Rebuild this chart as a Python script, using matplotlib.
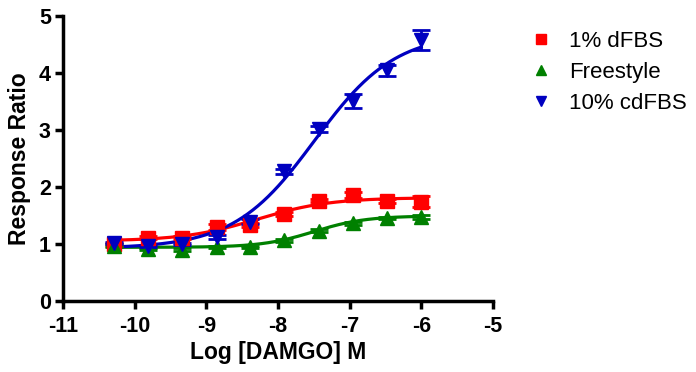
import matplotlib.pyplot as plt
import numpy as np

plt.rcParams['font.family'] = ['Liberation Sans', 'DejaVu Sans']

# log concentrations (3-fold dilutions from 1 uM)
log_conc = [-10.29, -9.82, -9.34, -8.86, -8.39, -7.91, -7.43, -6.95, -6.48, -6.0]

dfbs = [0.99, 1.11, 1.11, 1.30, 1.33, 1.52, 1.76, 1.86, 1.75, 1.74]
dfbs_err = [0.02, 0.03, 0.03, 0.05, 0.04, 0.03, 0.03, 0.05, 0.03, 0.10]

freestyle = [0.97, 0.91, 0.90, 0.95, 0.95, 1.06, 1.23, 1.36, 1.45, 1.47]
freestyle_err = [0.02, 0.02, 0.02, 0.02, 0.02, 0.02, 0.03, 0.03, 0.02, 0.03]

cdfbs = [1.02, 0.96, 1.00, 1.12, 1.39, 2.27, 3.01, 3.50, 4.04, 4.57]
cdfbs_err = [0.02, 0.02, 0.02, 0.03, 0.05, 0.04, 0.05, 0.12, 0.10, 0.17]

# fitted sigmoid parameters: bottom, top, logEC50, hill
fit_dfbs = (1.05, 1.81, -8.3, 0.85)
fit_freestyle = (0.94, 1.49, -7.5, 1.2)
fit_cdfbs = (0.92, 4.70, -7.49, 0.77)

labels = ['1% dFBS', 'Freestyle', '10% cdFBS']
colors = ['#ff0000', '#008000', '#0000c0']
markers = ['s', '^', 'v']


def sigmoid(x, p):
    bottom, top, ec50, hill = p
    return bottom + (top - bottom) / (1 + 10 ** ((ec50 - x) * hill))


fig = plt.figure(figsize=(6.96, 3.72), dpi=100)
ax = fig.add_axes([0.091, 0.191, 0.617, 0.767])

xs = np.linspace(log_conc[0], log_conc[-1], 300)
series = [(dfbs, dfbs_err, fit_dfbs), (freestyle, freestyle_err, fit_freestyle),
          (cdfbs, cdfbs_err, fit_cdfbs)]
handles = []
for (y, e, p), lab, c, m in zip(series, labels, colors, markers):
    ax.plot(xs, sigmoid(xs, p), color=c, lw=2.3, zorder=2)
    ax.errorbar(log_conc, y, yerr=e, fmt='none', ecolor=c, elinewidth=2,
                capsize=6.5, capthick=2, zorder=3)
    ax.plot(log_conc, y, ls='none', marker=m, color=c, ms=9.5, zorder=4)
    handles.append(ax.plot([], [], ls='none', marker=m, color=c, ms=7)[0])

ax.set_xlim(-11, -5)
ax.set_ylim(0, 5)
ax.set_xticks(range(-11, -4))
ax.set_yticks(range(0, 6))
ax.set_xticklabels([f'-{abs(t)}' for t in range(-11, -4)])

for s in ['top', 'right']:
    ax.spines[s].set_visible(False)
for s in ['left', 'bottom']:
    ax.spines[s].set_linewidth(2.5)
ax.tick_params(width=2.5, length=6, labelsize=15.5)
ax.tick_params(axis='x', pad=5)
ax.tick_params(axis='y', pad=3)
for t in ax.get_xticklabels() + ax.get_yticklabels():
    t.set_fontweight('bold')

ax.set_xlabel('Log [DAMGO] M', fontsize=16.5, fontweight='bold', labelpad=3)
ax.set_ylabel('Response Ratio', fontsize=16.5, fontweight='bold', labelpad=6)

fig.legend(handles, labels, loc='upper left', bbox_to_anchor=(0.733, 0.97),
           frameon=False, fontsize=16, handlelength=1.0, handletextpad=0.75,
           labelspacing=0.45)

fig.savefig('out.png', dpi=100)
